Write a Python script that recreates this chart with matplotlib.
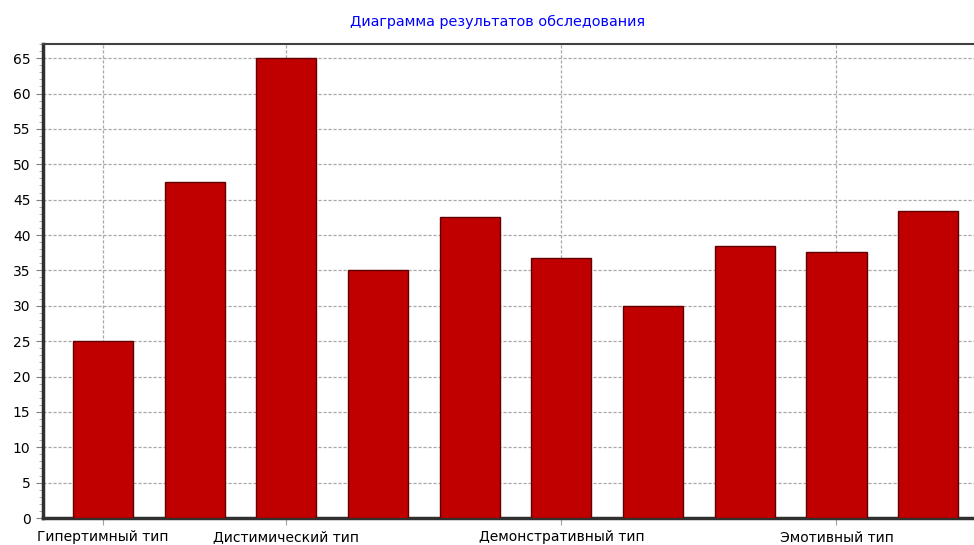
import matplotlib
matplotlib.use('Agg')
import matplotlib.pyplot as plt
from matplotlib.ticker import MultipleLocator

plt.rcParams['font.family'] = ['DejaVu Sans']

title = 'Диаграмма результатов обследования'
values = [25, 47.5, 65, 35, 42.5, 36.7, 30, 38.4, 37.6, 43.4]
label_pos = [0, 2, 5, 8]
labels = ['Гипертимный тип', 'Дистимический тип', 'Демонстративный тип', 'Эмотивный тип']


def run():
  fig = plt.figure(figsize=(9.74, 5.45), dpi=100)
  ax = fig.add_axes([43 / 974, 1 - 518 / 545, 1 - 43 / 974, (518 - 44) / 545])

  ax.bar(range(len(values)), values, width=0.655, color='#c00000',
         edgecolor='#600000', linewidth=1, zorder=3)

  ax.set_xlim(-0.655, 9.5)
  ax.set_ylim(0, 67)
  ax.set_xticks(label_pos)
  ax.set_xticklabels(labels, fontsize=10)
  ax.yaxis.set_major_locator(MultipleLocator(5))
  ax.yaxis.set_minor_locator(MultipleLocator(1))
  ax.tick_params(axis='y', which='major', length=5, color='#808080', labelsize=10, pad=4)
  ax.tick_params(axis='y', which='minor', length=3, color='#a0a0a0')
  ax.tick_params(axis='x', length=5, color='#a0a0a0', pad=4)

  ax.grid(True, which='major', color='#a8a8a8', linestyle=(0, (2.5, 1.5)), linewidth=0.9, zorder=0)

  ax.spines['right'].set_visible(False)
  ax.spines['left'].set_linewidth(2.5)
  ax.spines['left'].set_color('#303030')
  ax.spines['bottom'].set_linewidth(2.5)
  ax.spines['bottom'].set_color('#303030')
  ax.spines['top'].set_linewidth(1.5)
  ax.spines['top'].set_color('#404040')

  fig.text(498 / 974, 1 - 22 / 545, title, color='#0000ff', fontsize=10.4,
           ha='center', va='center')

  fig.savefig('out.png', dpi=100)


run()
